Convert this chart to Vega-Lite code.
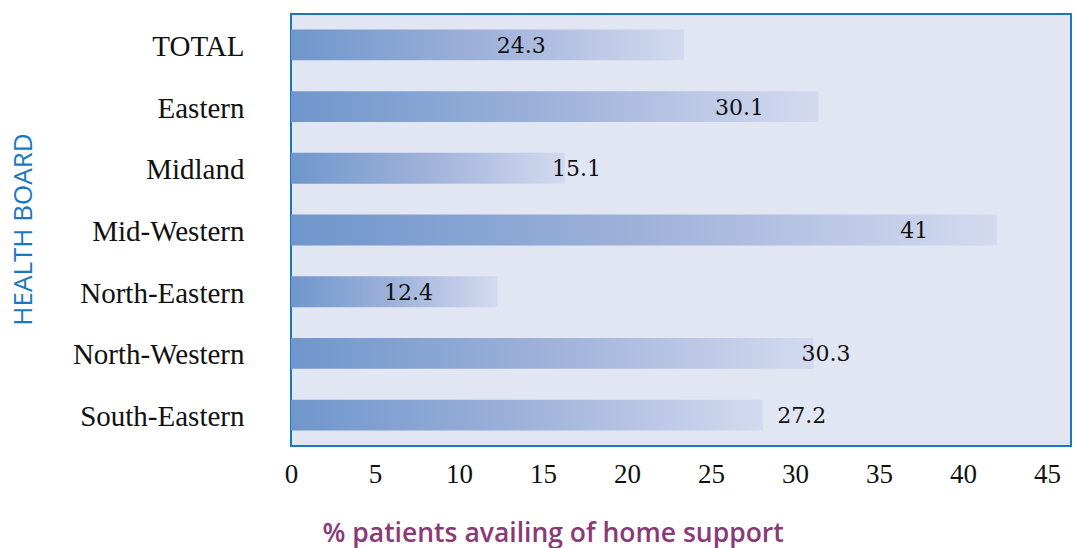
{
  "$schema": "https://vega.github.io/schema/vega-lite/v6.json",
  "autosize": "none",
  "width": 780,
  "height": 432,
  "padding": {"left": 291, "top": 14, "right": 6, "bottom": 102},
  "background": "white",
  "view": {"fill": "#e2e6f3", "stroke": "#1a78c2", "strokeWidth": 2},
  "data": {
    "values": [
      {"board": "TOTAL", "value": "24.3", "length": 23.4, "label_at": 13.7},
      {"board": "Eastern", "value": "30.1", "length": 31.4, "label_at": 26.7},
      {"board": "Midland", "value": "15.1", "length": 16.3, "label_at": 17.0},
      {"board": "Mid-Western", "value": "41", "length": 42.0, "label_at": 37.1},
      {"board": "North-Eastern", "value": "12.4", "length": 12.3, "label_at": 7.0},
      {"board": "North-Western", "value": "30.3", "length": 31.1, "label_at": 31.85},
      {"board": "South-Eastern", "value": "27.2", "length": 28.1, "label_at": 30.4}
    ]
  },
  "encoding": {
    "y": {
      "field": "board",
      "type": "nominal",
      "sort": null,
      "scale": {"paddingInner": 0.5, "paddingOuter": 0.25},
      "axis": {
        "title": "HEALTH BOARD",
        "titleFont": "Open Sans",
        "titleFontSize": 26,
        "titleFontWeight": 500,
        "titleColor": "#1a78c2",
        "titleX": -268,
        "titleY": 215,
        "titleAngle": -90,
        "titleBaseline": "middle",
        "labelFont": "Liberation Serif",
        "labelFontSize": 29,
        "labelColor": "#111111",
        "labelPadding": 47,
        "labelOffset": 2,
        "ticks": false,
        "domain": false,
        "grid": false
      }
    }
  },
  "layer": [
    {
      "mark": {
        "type": "bar",
        "color": {
          "x1": 0, "y1": 0, "x2": 1, "y2": 0,
          "gradient": "linear",
          "stops": [
            {"offset": 0, "color": "#6f96cc"},
            {"offset": 0.5, "color": "#9fb2da"},
            {"offset": 1, "color": "#d3daef"}
          ]
        }
      },
      "encoding": {
        "x": {
          "field": "length",
          "type": "quantitative",
          "scale": {"domain": [0, 46.43], "nice": false, "zero": true},
          "axis": {
            "values": [0, 5, 10, 15, 20, 25, 30, 35, 40, 45],
            "title": "% patients availing of home support",
            "titleFont": "Open Sans",
            "titleFontSize": 26.5,
            "titleFontWeight": 600,
            "titleColor": "#8a3a78",
            "titleAnchor": "start",
            "titleAlign": "left",
            "titleX": 31,
            "titleY": 95,
            "titleBaseline": "alphabetic",
            "labelFont": "Liberation Serif",
            "labelFontSize": 27,
            "labelColor": "#111111",
            "labelPadding": 15,
            "labelFlush": false,
            "ticks": false,
            "domain": false,
            "grid": false
          }
        }
      }
    },
    {
      "mark": {"type": "text", "font": "DejaVu Serif", "fontSize": 22, "color": "#111111", "align": "center", "baseline": "middle", "dy": 1},
      "encoding": {
        "x": {"field": "label_at", "type": "quantitative"},
        "text": {"field": "value", "type": "nominal"}
      }
    }
  ]
}
